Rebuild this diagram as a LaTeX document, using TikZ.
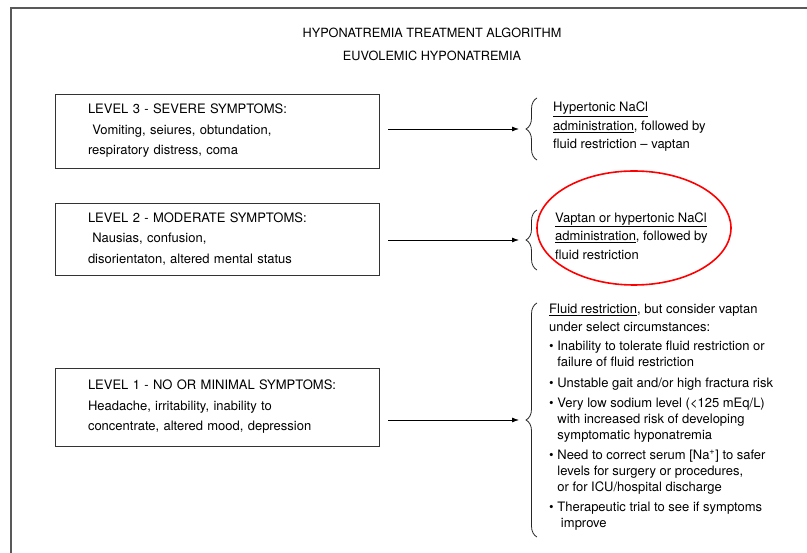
\documentclass[tikz,border=0pt]{standalone}
\usepackage{fontspec}
\setmainfont{TeX Gyre Heros}
\usetikzlibrary{arrows.meta}
\usetikzlibrary{decorations.pathreplacing}

\newcommand{\bul}{\textbullet\ }
\newcommand{\ind}{\hphantom{\textbullet\ }}

\begin{document}
\begin{tikzpicture}[x=1pt, y=-1pt, >={Latex[length=7pt,width=5pt]},
 level/.style={draw=black!80, line width=0.9pt, inner xsep=33pt, text width=258pt,
  align=left, font=\fontsize{13}{20.5}\selectfont},
 rtext/.style={anchor=west, inner sep=0pt, align=left, font=\fontsize{13}{18.5}\selectfont},
 curly/.style={decorate, decoration={brace, amplitude=11pt}, line width=0.8pt, black!85},
 hilite/.style={draw=red, line width=1.6pt}]
    \useasboundingbox (0,0) rectangle (807,553);
    % moldura: so o topo e a esquerda aparecem
    \draw[line width=2pt, black!65] (807,8) -| (11,553);

    % titulo
    \node[font=\fontsize{12.7}{14}\selectfont] (title) at (432,33) {HYPONATREMIA TREATMENT ALGORITHM};
    \node[font=\fontsize{12.7}{14}\selectfont] (subtitle) at (432,56) {EUVOLEMIC HYPONATREMIA};

    % caixas dos niveis
    \node[level, minimum height=74pt] (lvl3) at (217,131)
        {LEVEL 3 - SEVERE SYMPTOMS:\\ \ Vomiting, seiures, obtundation,\\ respiratory distress, coma};
    \node[level, minimum height=72pt] (lvl2) at (217,239)
        {LEVEL 2 - MODERATE SYMPTOMS:\\ \ Nausias, confusion,\\ disorientaton, altered mental status};
    \node[level, minimum height=78pt] (lvl1) at (217,407)
        {LEVEL 1 - NO OR MINIMAL SYMPTOMS:\\ Headache, irritability, inability to\\ concentrate, altered mood, depression};

    % pontas das chaves
    \coordinate (b3) at (526,129);
    \coordinate (b2) at (526,240);
    \coordinate (b1) at (526,420);

    \draw[curly] ([shift={(11,31)}]b3) -- ([shift={(11,-31)}]b3);
    \draw[curly] ([shift={(11,30)}]b2) -- ([shift={(11,-30)}]b2);
    \draw[curly] ([shift={(11,117)}]b1) -- ([shift={(11,-117)}]b1);

    \draw[->, line width=0.8pt, shorten <=9pt, shorten >=7pt] (lvl3.east |- b3) -- (b3);
    \draw[->, line width=0.8pt, shorten <=9pt, shorten >=7pt] (lvl2.east |- b2) -- (b2);
    \draw[->, line width=0.8pt, shorten <=9pt, shorten >=7pt] (lvl1.east |- b1) -- (b1);

    % tratamentos
    \node[rtext] (tx3) at (553,127)
        {\underline{Hypertonic NaCl}\\ \underline{administration}, followed by\\ fluid restriction -- vaptan};
    \node[rtext] (tx2) at (555,236)
        {\underline{Vaptan or hypertonic NaCl}\\ \underline{administration}, followed by\\ fluid restriction};
    \node[rtext, font=\fontsize{13}{16}\selectfont] (tx1) at (549,417)
        {\underline{Fluid restriction}, but consider vaptan\\[2.5pt]
         under select circumstances:\\[3pt]
         \bul Inability to tolerate fluid restriction or\\ \ind failure of fluid restriction\\[4.5pt]
         \bul Unstable gait and/or high fractura risk\\[4pt]
         \bul Very low sodium level (<125 mEq/L)\\ \ind with increased risk of developing\\ \ind symptomatic hyponatremia\\[4pt]
         \bul Need to correct serum [Na\textsuperscript{+}] to safer\\ \ind levels for surgery or procedures,\\ \ind or for ICU/hospital discharge\\[4pt]
         \bul Therapeutic trial to see if symptoms\\ \ind\ improve};

    % destaque
    \draw[hilite] (634,228) ellipse [x radius=97pt, y radius=57pt];
\end{tikzpicture}
\end{document}
